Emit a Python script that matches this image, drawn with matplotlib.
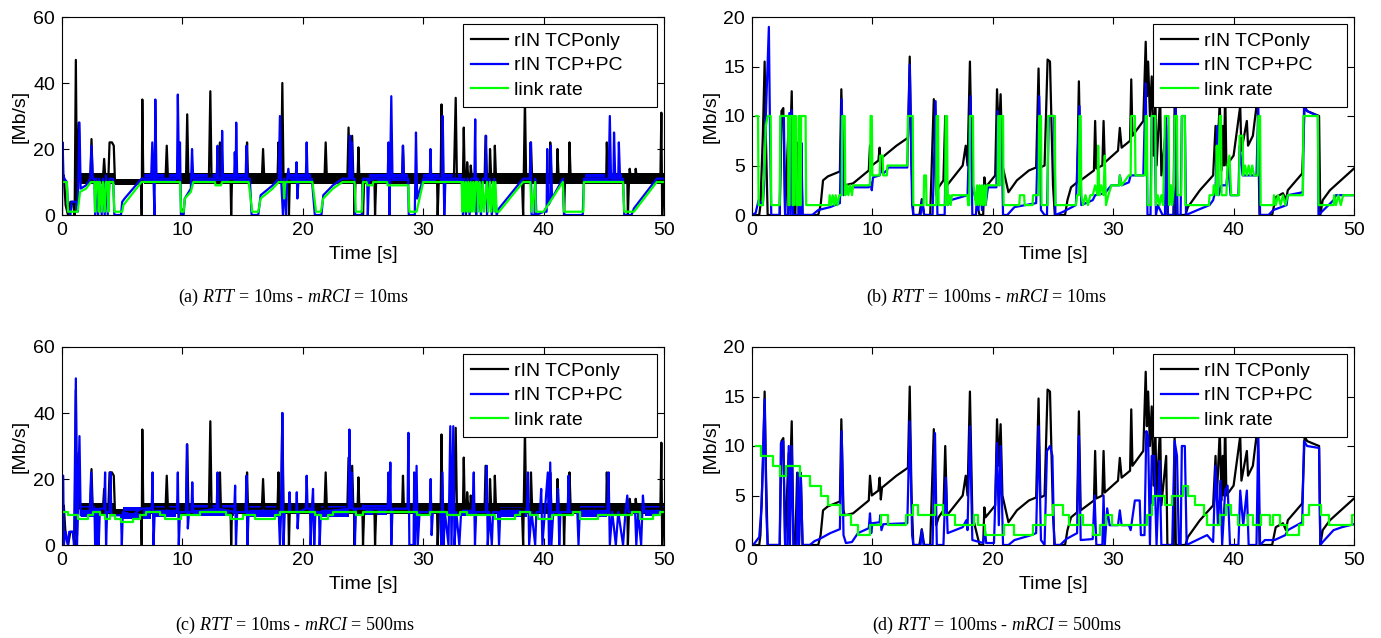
import numpy as np
import matplotlib
matplotlib.use("Agg")
import matplotlib.pyplot as plt

plt.rcParams['font.family'] = ['Liberation Sans', 'DejaVu Sans']
plt.rcParams['mathtext.fontset'] = 'custom'
plt.rcParams['mathtext.rm'] = 'Liberation Serif'
plt.rcParams['mathtext.it'] = 'Liberation Serif:italic'

# ---- data (time [s], rate [Mb/s]) ----

# rIN TCPonly, RTT = 10ms (same run in panels a and c)
tcp10 = [(0, 10), (0.15, 12), (0.3, 3), (0.5, 0), (0.7, 4), (0.9, 4), (1.05, 0), (1.15, 47),
         (1.25, 3), (1.4, 28), (1.5, 11), (2.35, 11), (2.45, 23), (2.55, 11), (3.4, 11), (3.5, 17),
         (3.6, 11), (3.85, 11), (3.95, 22), (4.15, 22), (4.3, 21), (4.4, 10), (6.55, 10), (6.62, 0),
         (6.67, 35), (6.75, 11), (8.6, 11), (8.7, 21), (8.8, 11), (10.3, 11), (10.4, 30.5), (10.5, 11),
         (12.2, 11), (12.32, 37.5), (12.42, 11), (13.05, 11), (13.12, 22), (13.2, 11), (14.0, 11),
         (14.05, 0), (14.12, 11), (15.3, 11), (15.37, 22), (15.45, 11), (16.6, 11), (16.7, 20),
         (16.8, 11), (17.9, 11), (17.98, 22), (18.05, 11), (18.2, 11), (18.3, 40), (18.4, 11),
         (18.8, 11), (18.85, 0), (18.92, 11), (21.8, 11), (21.9, 22), (22.0, 11), (23.7, 11),
         (23.8, 26.5), (23.9, 11), (24.0, 11), (24.1, 24), (24.2, 11), (24.25, 11), (24.3, 0),
         (24.38, 11), (24.55, 11), (24.62, 20.5), (24.7, 11), (24.95, 11), (25.0, 0), (25.1, 11),
         (25.95, 11), (26.0, 0), (26.1, 11), (28.25, 11), (28.32, 21), (28.4, 11), (31.15, 11),
         (31.2, 0), (31.3, 11), (31.45, 11), (31.52, 33.5), (31.6, 11), (32.55, 11), (32.62, 22),
         (32.7, 35.5), (32.8, 11), (33.3, 11), (33.37, 26.5), (33.45, 11), (33.6, 11), (33.65, 16),
         (33.75, 11), (33.9, 11), (33.95, 15), (34.05, 11), (35.1, 11), (35.18, 24), (35.3, 11),
         (35.5, 11), (35.55, 20), (35.65, 11), (35.9, 11), (35.95, 21), (36.05, 11), (38.2, 11),
         (38.3, 0), (38.45, 35), (38.55, 11), (38.9, 11), (38.95, 22), (39.05, 11), (40.5, 11),
         (40.55, 22), (40.65, 11), (41.1, 11), (41.15, 20), (41.25, 11), (41.65, 11), (41.7, 0),
         (41.78, 11), (42.1, 11), (42.15, 22), (42.25, 11), (45.2, 11), (45.25, 22), (45.35, 11),
         (46.95, 11), (47.0, 0), (47.1, 11), (47.15, 14), (47.25, 11), (47.6, 11), (47.65, 14),
         (47.75, 11), (49.7, 11), (49.78, 31), (49.85, 0), (50, 11)]
# range of the fast oscillation of the TCPonly rate: (t start, t end, low, high)
tcp10_band = [(1.5, 4.4, 9.3, 12.6), (4.4, 6.6, 9.0, 10.8), (6.8, 50, 9.3, 12.6)]

# rIN TCP+PC, RTT = 10ms, mRCI = 10ms
pc_a = [(0, 0), (0.05, 22), (0.12, 12), (0.2, 11), (0.4, 10), (0.5, 2), (0.7, 0), (0.8, 4), (1.2, 4),
        (1.3, 1), (1.45, 28), (1.55, 8), (2.0, 9), (2.35, 11), (2.45, 21), (2.55, 11), (2.7, 11),
        (2.75, 0), (2.85, 11), (3.0, 0), (3.1, 11), (3.3, 0), (3.4, 11), (3.55, 0), (3.65, 12),
        (3.8, 0), (3.95, 11), (4.25, 11), (4.35, 0), (4.9, 0), (5.0, 4), (5.2, 5), (6.6, 11),
        (7.4, 11), (7.5, 22), (7.6, 11), (7.68, 0), (7.75, 35), (7.85, 11), (9.55, 11), (9.62, 36.5),
        (9.72, 11), (9.8, 22), (9.88, 0), (10.1, 0), (10.2, 5), (10.7, 8), (10.8, 20), (10.9, 11),
        (12.85, 11), (12.92, 21), (13.0, 11), (13.25, 11), (13.3, 25.5), (13.38, 11), (14.3, 11),
        (14.35, 19), (14.42, 11), (14.47, 28), (14.55, 11), (15.25, 11), (15.32, 21), (15.4, 11),
        (15.6, 11), (15.75, 0), (16.3, 0), (16.5, 6), (17.5, 9), (18.0, 11), (18.1, 30), (18.2, 11),
        (18.35, 0), (18.45, 11), (18.6, 0), (18.7, 11), (18.8, 14), (18.9, 11), (19.4, 11),
        (19.48, 16), (19.55, 5), (19.65, 11), (20.25, 11), (20.32, 22), (20.4, 11), (20.75, 11),
        (21.0, 0), (21.55, 0), (21.7, 6), (22.5, 9), (23.3, 11), (23.85, 11), (23.92, 24), (24.0, 11),
        (24.08, 22), (24.15, 11), (24.3, 11), (24.35, 0), (24.9, 0), (25.0, 11), (25.35, 11),
        (25.4, 0), (25.5, 11), (27.05, 11), (27.12, 22), (27.2, 0), (27.35, 36), (27.45, 11),
        (28.25, 11), (28.32, 21), (28.4, 11), (28.75, 11), (28.8, 0), (29.3, 0), (29.4, 25),
        (29.5, 5), (30.0, 11), (30.55, 11), (30.6, 20), (30.67, 11), (31.55, 11), (31.62, 30),
        (31.7, 11), (31.75, 0), (31.85, 11), (33.2, 11), (33.3, 0), (33.4, 11), (33.55, 0),
        (33.7, 11), (33.85, 0), (34.0, 11), (34.25, 11), (34.32, 29), (34.4, 0), (34.55, 11),
        (34.8, 0), (34.95, 11), (35.15, 11), (35.22, 24), (35.3, 0), (35.5, 11), (35.7, 0),
        (35.9, 11), (36.1, 0), (36.3, 2), (38.3, 11), (38.85, 11), (38.92, 22), (39.0, 0),
        (39.25, 0), (39.3, 11), (39.4, 0), (40.0, 1), (40.25, 1), (40.3, 20), (40.38, 3), (40.55, 4),
        (40.6, 21), (40.7, 5), (41.6, 11), (41.7, 0), (43.25, 0), (43.35, 11), (45.4, 11), (45.5, 30),
        (45.6, 11), (45.8, 11), (45.85, 25), (45.95, 11), (46.2, 11), (46.25, 22), (46.35, 11),
        (46.6, 11), (46.7, 0), (47.3, 0), (47.5, 2), (49.4, 11), (50, 11)]
# where the TCP+PC rate oscillates as a band: (t start, t end, low, high)
pc_a_band = [(6.6, 9.5, 10.2, 12.3), (10.9, 15.5, 10.2, 12.3), (18.9, 20.7, 10.2, 12.3),
             (25.5, 28.7, 10.2, 12.3), (30.0, 33.2, 10.2, 12.3), (43.4, 46.5, 10.2, 12.3)]

link_a = [(0, 10), (0.4, 10), (0.5, 1), (1.3, 1), (1.5, 7), (2.0, 8), (2.4, 10), (2.7, 10), (2.75, 1),
          (2.85, 10), (3.0, 10), (3.05, 1), (3.15, 10), (3.3, 1), (3.4, 10), (3.55, 1), (3.65, 10),
          (3.8, 10), (3.85, 1), (3.95, 10), (4.25, 10), (4.35, 1), (5.0, 1), (5.1, 3), (6.6, 10),
          (9.8, 10), (9.9, 1), (10.1, 1), (10.2, 5), (10.7, 7), (10.9, 10), (12.7, 10), (12.75, 9),
          (13.2, 9), (13.3, 10), (15.5, 10), (15.8, 1), (16.3, 1), (16.5, 5), (17.5, 8), (18.0, 10),
          (18.4, 10), (18.45, 5), (18.55, 10), (20.8, 10), (21.1, 1), (21.5, 1), (21.7, 5), (22.5, 8),
          (23.3, 10), (24.3, 10), (24.4, 1), (24.9, 1), (25.0, 10), (25.3, 10), (25.35, 9), (25.8, 9),
          (25.85, 10), (27.0, 10), (27.05, 9), (28.75, 9), (28.85, 1), (29.45, 1), (30.0, 10),
          (33.2, 10), (33.25, 1), (33.35, 10), (33.45, 1), (33.55, 10), (33.65, 1), (33.75, 10),
          (33.85, 1), (33.95, 10), (34.05, 1), (34.15, 10), (34.25, 1), (34.35, 10), (34.5, 10),
          (34.55, 1), (34.7, 10), (34.8, 1), (34.95, 10), (35.05, 1), (35.3, 10), (35.4, 1),
          (35.55, 10), (35.65, 1), (35.8, 10), (35.9, 1), (36.0, 10), (36.1, 1), (36.3, 1), (38.3, 10),
          (38.9, 10), (39.0, 1), (39.3, 10), (39.35, 1), (40.0, 1), (41.6, 10), (41.7, 1), (43.3, 1),
          (43.35, 10), (46.6, 10), (46.7, 1), (47.3, 1), (47.5, 1), (49.4, 10), (50, 10)]

# rIN TCP+PC, RTT = 10ms, mRCI = 500ms
pc_c = [(0, 21), (0.1, 21), (0.15, 0), (0.3, 4), (0.5, 0), (0.6, 4), (0.9, 4), (1.0, 0), (1.15, 50.5),
        (1.25, 0), (1.45, 33), (1.55, 9), (2.3, 9), (2.42, 22), (2.52, 11), (2.7, 11), (2.75, 0),
        (2.82, 11), (2.9, 0), (2.98, 11), (3.05, 0), (3.15, 11), (3.5, 11), (3.58, 22), (3.66, 0),
        (3.75, 10), (3.95, 10), (4.02, 22), (4.1, 9), (4.9, 9), (4.97, 0), (5.05, 10), (5.9, 9),
        (6.5, 11), (7.45, 11), (7.52, 22), (7.6, 0), (7.7, 10), (9.55, 10), (9.62, 22), (9.7, 0),
        (9.8, 10), (10.3, 10), (10.38, 30.5), (10.45, 5), (10.55, 10), (10.75, 10), (10.82, 19),
        (10.9, 10), (12.85, 11), (12.92, 22), (13.0, 11), (14.3, 10), (14.38, 18), (14.45, 0),
        (14.55, 10), (15.25, 10), (15.32, 21), (15.4, 0), (15.5, 10), (18.0, 10), (18.1, 0),
        (18.2, 10), (18.3, 40), (18.4, 0), (18.5, 10), (18.85, 10), (18.9, 16), (18.97, 10),
        (19.45, 10), (19.5, 16), (19.57, 5), (19.65, 10), (20.25, 11), (20.32, 21), (20.4, 11),
        (20.6, 11), (20.65, 0), (20.75, 11), (20.85, 17), (20.95, 0), (21.05, 10), (21.35, 10),
        (21.4, 0), (21.5, 10), (23.8, 11), (23.87, 35), (23.95, 11), (24.05, 22), (24.12, 11),
        (24.28, 11), (24.33, 0), (24.4, 11), (24.95, 11), (25.0, 12), (25.05, 11), (27.05, 11),
        (27.12, 22), (27.2, 11), (27.27, 25), (27.35, 0), (27.45, 11), (28.7, 11), (28.77, 34),
        (28.85, 0), (29.2, 0), (29.25, 22), (29.32, 0), (29.45, 24), (29.55, 0), (29.7, 10),
        (30.55, 10), (30.62, 20), (30.7, 3), (30.8, 10), (31.4, 10), (31.5, 0), (31.6, 22), (31.7, 0),
        (31.8, 10), (32.1, 0), (32.25, 36), (32.35, 0), (32.5, 36), (32.6, 0), (32.75, 10), (33.0, 0),
        (33.15, 10), (34.1, 10), (34.2, 22), (34.3, 0), (34.4, 10), (35.2, 10), (35.28, 24),
        (35.36, 0), (35.5, 10), (35.7, 0), (35.8, 10), (36.2, 10), (36.3, 0), (36.4, 10), (38.6, 10),
        (38.7, 22), (38.8, 0), (39.0, 10), (39.3, 0), (39.4, 10), (39.7, 10), (39.8, 17), (39.9, 0),
        (40.1, 10), (40.35, 22), (40.45, 0), (40.55, 25), (40.65, 0), (40.8, 10), (41.1, 10),
        (41.2, 17), (41.3, 0), (41.4, 10), (42.0, 10), (42.07, 21), (42.15, 10), (42.8, 10),
        (42.9, 0), (43.0, 10), (45.3, 10), (45.4, 22), (45.5, 0), (45.7, 10), (46.0, 0), (46.2, 10),
        (46.6, 0), (46.8, 10), (46.95, 15), (47.05, 10), (47.6, 10), (47.7, 0), (47.85, 10),
        (48.1, 0), (48.25, 15), (48.35, 10), (50, 10)]
pc_c_band = [(1.6, 2.7, 8.6, 11.8), (5.1, 7.4, 8.0, 11.5), (7.7, 9.5, 8.6, 11.8),
             (10.9, 14.3, 8.8, 12.0), (15.5, 18.0, 8.6, 11.8), (21.5, 23.8, 8.6, 11.8),
             (25.1, 27.0, 9.0, 12.0), (33.2, 34.1, 8.8, 11.8), (36.4, 38.6, 8.6, 11.5),
             (43.0, 45.3, 8.6, 11.8), (48.4, 50, 8.8, 11.8)]

# link rate steps (step start time, level)
link_c = [(0, 10), (0.5, 9), (1.33, 8), (2.16, 9), (2.58, 10), (3.13, 9), (3.55, 8), (3.96, 9),
          (4.38, 8), (4.93, 7), (5.9, 8), (6.45, 9), (7.0, 10), (8.1, 9), (8.53, 8), (9.92, 9),
          (11.44, 10), (13.66, 9), (14.07, 8), (15.04, 9), (16.0, 8), (17.67, 9), (18.09, 10),
          (21.0, 9), (21.55, 8), (22.1, 9), (22.5, 10), (24.46, 9), (25.0, 10), (29.45, 9),
          (30.55, 10), (31.94, 9), (33.05, 10), (33.6, 9), (35.96, 8), (37.62, 9), (38.03, 10),
          (38.86, 9), (39.56, 8), (40.66, 9), (42.47, 10), (43.02, 8), (44.54, 9), (47.31, 10),
          (48.0, 8), (49.1, 9), (49.67, 10), (50, 10)]

# rIN TCPonly, RTT = 100ms (same run in panels b and d)
tcp100 = [(0, 0), (0.6, 0), (0.7, 1), (0.9, 8), (1.05, 15.5), (1.15, 8), (1.3, 0), (2.3, 0),
          (2.45, 10.5), (2.6, 10.8), (2.75, 0), (2.95, 6.5), (3.05, 9.3), (3.15, 6.5), (3.3, 12.5),
          (3.45, 0), (3.6, 0), (3.75, 7.3), (3.9, 0), (4.05, 7.3), (4.2, 0), (5.5, 0), (5.7, 1),
          (5.9, 3.5), (6.3, 3.9), (7.3, 4.4), (7.42, 12.7), (7.6, 3.5), (7.7, 3.0), (8.4, 3.2),
          (9.7, 4.5), (9.8, 7), (9.95, 5), (10.5, 5.5), (10.6, 6.8), (10.7, 4.6), (10.8, 5.8),
          (12.0, 7.0), (12.95, 7.8), (13.1, 16), (13.25, 5), (13.4, 0), (13.9, 0), (14.1, 1.6),
          (14.3, 0), (14.8, 0), (15.1, 11.7), (15.3, 2), (15.5, 2.8), (15.9, 3.5), (16.05, 10),
          (16.2, 3), (17.5, 5), (17.75, 7), (17.9, 5), (18.1, 15.5), (18.3, 3), (18.9, 0), (19.2, 0),
          (19.3, 3.8), (19.4, 2.8), (20.2, 4), (20.35, 12.7), (20.5, 8), (20.65, 12.2), (20.8, 5),
          (21.3, 2.3), (22.0, 3.5), (23.0, 4.5), (23.6, 4.8), (23.8, 14.8), (23.95, 4.8), (24.3, 5),
          (24.55, 15.7), (24.75, 15.5), (25.0, 3), (25.15, 0), (26.0, 0), (26.2, 1.5), (26.5, 2.8),
          (27.0, 3.3), (27.15, 13.5), (27.3, 3.5), (28.4, 4.5), (28.5, 9.5), (28.6, 4.7), (29.1, 5),
          (29.2, 9.5), (29.3, 5.3), (30.4, 6.5), (30.55, 8.8), (30.7, 6.8), (31.4, 7.5), (31.5, 13.7),
          (31.6, 8), (32.5, 9.5), (32.7, 17.5), (32.8, 12), (32.9, 15.5), (33.05, 10), (33.2, 14),
          (33.35, 6), (33.5, 12), (33.6, 5), (33.9, 12), (34.0, 4), (34.4, 9), (34.5, 0), (35.0, 0),
          (35.1, 11), (35.2, 0), (36.0, 0), (36.2, 0.8), (37.2, 2.5), (38.3, 4), (38.5, 9), (38.6, 4.5),
          (38.85, 11.5), (39.0, 4.5), (39.1, 9), (39.2, 5), (39.3, 12.8), (39.4, 5), (40.0, 6),
          (40.55, 11), (40.65, 6.5), (41.1, 9.5), (41.2, 7), (41.6, 8), (42.0, 12), (42.15, 0),
          (43.2, 0), (43.5, 1.8), (44.1, 2.2), (44.35, 1.5), (44.5, 2.5), (45.7, 4.2), (45.9, 11),
          (46.1, 10.5), (47.1, 10), (47.2, 0), (47.4, 1.5), (48.0, 2.5), (49.0, 3.6), (50, 4.7)]

# rIN TCP+PC, RTT = 100ms, mRCI = 10ms
pc_b = [(0, 0), (0.3, 0.2), (0.55, 1.5), (0.9, 1), (1.0, 3), (1.15, 10), (1.4, 19), (1.5, 8), (1.6, 0),
        (2.3, 0), (2.4, 10), (2.65, 10), (2.75, 0), (3.0, 0), (3.1, 10.3), (3.2, 0), (3.3, 10.6),
        (3.4, 0), (3.85, 0), (3.95, 7.5), (4.05, 0), (4.1, 7.3), (4.2, 0), (5.0, 0), (5.5, 0.5),
        (6.5, 0.8), (7.3, 1.2), (7.45, 11.7), (7.6, 2), (7.8, 2.5), (8.4, 2.8), (9.7, 2.8),
        (9.85, 3.3), (9.95, 2.5), (10.05, 3.8), (10.6, 4), (10.7, 4.5), (10.9, 4.2), (11.2, 4.5),
        (11.3, 4.8), (12.9, 4.8), (13.1, 15.2), (13.3, 1), (13.4, 0), (14.0, 0), (14.15, 1.5),
        (14.3, 0), (15.0, 0), (15.25, 11.5), (15.4, 0), (16.0, 0), (16.1, 6.8), (16.25, 1),
        (16.5, 1.5), (17.9, 2), (18.15, 12), (18.3, 0), (18.6, 0), (18.7, 2.5), (18.8, 0.5),
        (19.0, 2.8), (19.1, 0.5), (19.3, 3), (19.4, 1), (19.6, 2.8), (20.3, 2.8), (20.4, 10.5),
        (20.55, 3), (20.7, 10), (20.85, 0), (21.2, 0), (21.8, 0.8), (23.6, 1.2), (23.85, 12),
        (24.0, 0.5), (24.3, 0), (24.5, 0), (24.65, 10), (25.1, 10), (25.2, 0), (25.8, 0.3),
        (26.9, 1), (27.2, 11), (27.35, 1), (28.3, 1.5), (28.5, 2), (29.3, 2.2), (29.85, 3), (30.5, 3),
        (30.55, 4), (30.7, 3), (31.3, 3.3), (31.45, 4), (31.8, 4), (32.5, 4), (32.7, 13.3),
        (32.85, 0), (33.1, 0), (33.2, 10), (33.45, 10), (33.55, 0), (33.7, 1), (34.1, 0), (34.3, 0),
        (34.4, 10), (34.55, 0), (35.05, 0), (35.2, 11), (35.35, 0), (35.6, 0), (35.7, 10),
        (35.95, 10), (36.05, 0), (37.0, 0.5), (38.0, 1), (38.3, 1.5), (38.5, 2.5), (38.65, 9),
        (38.75, 2), (39.0, 3), (39.4, 3), (39.55, 5), (39.75, 2), (40.4, 2), (40.5, 7), (40.75, 4),
        (41.5, 4), (41.9, 4), (42.05, 11), (42.2, 0), (42.9, 0), (43.3, 0.5), (44.4, 1), (44.5, 2),
        (45.75, 2.3), (45.85, 11), (46.1, 10.5), (47.0, 10), (47.05, 0), (47.3, 0.3), (48.3, 1.5),
        (48.5, 2), (50, 2)]

link_b = [(0.35, 10), (0.5, 10), (0.55, 1), (0.9, 1), (0.95, 3), (1.05, 5), (1.15, 9), (1.3, 10),
          (1.55, 10), (1.6, 1), (2.3, 1), (2.35, 10), (3.0, 10), (3.03, 1), (3.12, 1), (3.15, 10),
          (3.35, 10), (3.38, 1), (3.48, 1), (3.5, 10), (3.65, 10), (3.68, 1), (3.85, 1), (3.88, 10),
          (3.95, 10), (3.98, 1), (4.05, 1), (4.08, 10), (4.45, 10), (4.5, 1), (6.4, 1), (6.45, 2),
          (6.6, 1), (6.7, 2), (6.85, 1), (6.95, 2), (7.1, 1), (7.25, 2), (7.45, 2), (7.5, 10),
          (7.7, 10), (7.75, 2), (7.9, 3), (8.0, 2), (8.15, 3), (8.3, 2), (8.4, 3), (9.8, 3),
          (9.85, 10), (9.95, 10), (10.0, 4), (10.6, 4), (10.65, 6), (10.85, 6), (10.9, 4), (11.2, 4),
          (11.25, 5), (12.9, 5), (12.95, 10), (13.35, 10), (13.4, 1), (14.25, 1), (14.3, 4),
          (14.45, 4), (14.5, 1), (15.3, 1), (15.33, 10), (15.45, 10), (15.5, 1), (16.05, 1),
          (16.08, 10), (16.2, 10), (16.25, 1), (16.4, 2), (16.5, 1), (16.6, 2), (17.9, 2), (17.95, 1),
          (18.05, 1), (18.1, 10), (18.35, 10), (18.4, 3), (18.6, 1), (18.7, 3), (18.8, 1), (18.9, 3),
          (19.0, 1), (19.1, 3), (19.2, 1), (19.3, 3), (19.4, 1), (19.5, 3), (20.4, 3), (20.45, 10),
          (20.55, 10), (20.6, 3), (20.65, 10), (20.85, 10), (20.9, 1), (22.2, 1), (22.25, 2),
          (22.6, 2), (22.65, 1), (23.3, 1), (23.35, 2), (23.8, 2), (23.85, 10), (24.0, 10), (24.05, 1),
          (24.55, 1), (24.6, 10), (25.15, 10), (25.2, 1), (26.9, 1), (27.0, 2), (27.15, 2), (27.2, 10),
          (27.3, 10), (27.35, 2), (27.5, 1), (27.7, 2), (27.9, 1), (28.1, 2), (28.3, 2), (28.5, 3),
          (28.7, 2), (28.75, 7), (28.85, 2), (29.0, 3), (29.2, 2), (29.3, 6), (29.4, 1), (29.6, 2),
          (29.85, 3), (30.5, 3), (30.55, 4), (30.7, 3), (31.3, 4), (31.45, 4), (31.5, 10), (31.8, 10),
          (31.85, 4), (32.65, 4), (32.7, 10), (32.8, 10), (32.85, 1), (33.15, 1), (33.2, 10),
          (33.5, 10), (33.55, 1), (33.7, 2), (33.85, 1), (34.0, 2), (34.15, 1), (34.3, 10), (34.6, 10),
          (34.65, 1), (34.8, 3), (34.9, 1), (35.05, 3), (35.1, 10), (35.3, 10), (35.35, 2),
          (35.65, 2), (35.7, 10), (35.95, 10), (36.0, 1), (37.95, 1), (38.0, 2), (38.3, 2), (38.35, 3),
          (38.55, 2), (38.6, 7), (38.7, 2), (38.85, 10), (38.95, 10), (39.0, 2), (39.4, 2), (39.5, 5),
          (39.65, 6), (39.8, 2), (40.45, 2), (40.5, 8), (40.75, 8), (40.8, 4), (40.95, 5), (41.1, 4),
          (41.25, 5), (41.4, 4), (41.55, 5), (41.7, 4), (42.0, 4), (42.05, 10), (42.2, 10), (42.25, 1),
          (43.3, 1), (43.35, 2), (43.5, 1), (43.7, 2), (43.9, 1), (44.1, 2), (44.3, 1), (44.5, 2),
          (45.75, 2), (45.8, 10), (47.0, 10), (47.05, 1), (48.3, 1), (48.35, 2), (48.5, 1), (48.7, 2),
          (48.9, 1), (49.1, 2), (50, 2)]

# rIN TCP+PC, RTT = 100ms, mRCI = 500ms
pc_d = [(0, 0), (0.1, 0), (0.6, 0.8), (0.8, 4), (1.05, 14.7), (1.2, 3), (1.3, 0), (2.3, 0), (2.4, 10.3),
        (2.6, 10.5), (2.75, 0), (2.95, 0), (3.05, 10), (3.15, 0), (3.3, 10), (3.45, 0), (3.7, 0),
        (3.8, 7.3), (3.9, 0), (4.05, 7.2), (4.2, 0), (4.8, 0), (5.2, 0.4), (5.6, 0.6), (6.5, 1.2),
        (7.3, 1.6), (7.45, 11.5), (7.6, 1.0), (7.8, 0.2), (8.3, 0.3), (8.8, 1.2), (9.7, 1.7),
        (9.8, 3.2), (9.9, 1.2), (10.0, 2.2), (10.6, 2.3), (10.65, 3), (10.75, 1.5), (10.9, 2.1),
        (12.9, 2.2), (13.1, 12.5), (13.3, 1), (13.4, 0), (14.0, 0), (14.1, 1.5), (14.25, 0),
        (15.0, 0), (15.2, 11.3), (15.35, 0), (15.9, 0), (16.1, 6.8), (16.25, 1.2), (17.5, 1.8),
        (17.8, 2.5), (17.9, 1.5), (18.1, 12), (18.3, 0.5), (19.2, 0.2), (19.35, 1.5), (19.45, 0.2),
        (20.1, 0.2), (20.35, 10.3), (20.5, 2), (20.65, 10), (20.85, 0), (21.3, 0), (21.8, 0.5),
        (23.2, 1), (23.6, 1.2), (23.8, 12), (24.0, 0.5), (24.3, 0), (24.5, 9.5), (24.75, 10),
        (24.95, 9), (25.1, 0), (25.6, 0), (26.1, 0.6), (27.0, 1.2), (27.15, 11), (27.3, 0.5),
        (28.3, 0.6), (28.45, 5), (28.6, 0), (29.1, 0), (29.2, 5), (29.3, 0), (29.5, 3.7), (29.7, 2),
        (30.4, 2), (30.55, 3.5), (30.7, 2), (31.3, 2), (31.45, 1.5), (31.8, 4.5), (32.2, 4.5),
        (32.3, 1), (32.6, 1), (32.75, 11.5), (32.9, 11), (33.05, 0), (33.2, 9), (33.4, 9), (33.6, 0),
        (33.85, 8.5), (34.0, 0), (34.9, 0), (35.1, 10.5), (35.3, 9), (35.45, 0), (35.6, 0), (35.7, 10),
        (35.95, 10), (36.1, 0), (36.6, 0.3), (37.8, 1), (38.3, 0.3), (38.5, 8), (38.7, 2), (38.9, 6.5),
        (39.05, 0), (39.3, 5.5), (39.5, 6), (39.7, 0), (40.4, 0), (40.55, 5.5), (40.8, 2), (41.1, 5.5),
        (41.25, 0), (41.9, 0), (42.05, 11.5), (42.2, 0), (42.6, 0.5), (43.4, 0.5), (44.3, 1.0),
        (44.5, 1.5), (45.7, 2.3), (45.85, 10.5), (46.1, 10), (47.1, 9.8), (47.2, 0), (47.4, 0.3),
        (48.3, 1.5), (49.0, 1.8), (50, 2.1)]

link_d = [(0.36, 10), (0.78, 9), (1.75, 8), (2.3, 7), (2.85, 8), (3.96, 7), (4.8, 6), (5.76, 5), (6.3, 4),
          (7.3, 3), (8.25, 2), (8.8, 1), (9.8, 2), (10.75, 3), (11.3, 2), (12.8, 3), (13.4, 4),
          (13.8, 3), (15.2, 4), (15.9, 3), (16.85, 2), (18.4, 3), (18.8, 2), (19.35, 1), (20.9, 2),
          (21.8, 1), (23.35, 2), (24.3, 3), (25.0, 4), (25.8, 3), (26.3, 2), (27.2, 3), (27.5, 2),
          (28.3, 1), (28.9, 2), (29.4, 3), (29.9, 2), (32.8, 3), (33.2, 4), (33.3, 5), (34.3, 4),
          (34.85, 5), (35.8, 6), (36.2, 5), (36.8, 4), (37.5, 3), (37.75, 2), (38.9, 3), (39.4, 4),
          (39.8, 3), (40.4, 2), (41.2, 3), (41.6, 2), (42.3, 3), (43.0, 2), (43.3, 3), (43.85, 2),
          (44.4, 1), (45.4, 2), (45.8, 3), (46.3, 4), (47.3, 3), (47.9, 2), (49.8, 3), (50, 3)]

captions = [r"(a) $RTT\,=\,10\mathrm{ms}$ - $mRCI\,=\,10\mathrm{ms}$",
            r"(b) $RTT\,=\,100\mathrm{ms}$ - $mRCI\,=\,10\mathrm{ms}$",
            r"(c) $RTT\,=\,10\mathrm{ms}$ - $mRCI\,=\,500\mathrm{ms}$",
            r"(d) $RTT\,=\,100\mathrm{ms}$ - $mRCI\,=\,500\mathrm{ms}$"]
labels = ["rIN TCPonly", "rIN TCP+PC", "link rate"]


def split(pairs):
    arr = np.array(pairs, dtype=float)
    return arr[:, 0], arr[:, 1]


def draw_band(ax, band, color):
    for t0, t1, lo, hi in band:
        ax.fill_between([t0, t1], [lo, lo], [hi, hi], color=color, lw=0)


W, H = 1381, 638
fig = plt.figure(figsize=(W / 100, H / 100), dpi=100)

panels = [
    # tcp, tcp band, pc, pc band, link, link is steps, ymax, yticks, axes (left, top) px, caption px
    (tcp10, tcp10_band, pc_a, pc_a_band, link_a, False, 60, [0, 20, 40, 60], (62, 17), (178, 297)),
    (tcp100, None, pc_b, None, link_b, False, 20, [0, 5, 10, 15, 20], (752, 17), (866, 297)),
    (tcp10, tcp10_band, pc_c, pc_c_band, link_c, True, 60, [0, 20, 40, 60], (62, 347), (175, 625)),
    (tcp100, None, pc_d, None, link_d, True, 20, [0, 5, 10, 15, 20], (752, 347), (872, 625)),
]

for i, (tcp, band, pc, pband, link, steps, ymax, yt, (px, py), (cx, cy)) in enumerate(panels):
    ax = fig.add_axes([px / W, 1 - (py + 198) / H, 602 / W, 198 / H])
    t, v = split(tcp)
    ax.plot(t, v, color='k', lw=1.6, label=labels[0])
    if band is not None:
        draw_band(ax, band, 'k')
    t, v = split(pc)
    ax.plot(t, v, color='#0000ff', lw=1.6, label=labels[1])
    if pband is not None:
        draw_band(ax, pband, '#0000ff')
    t, v = split(link)
    ax.plot(t, v, color='#00ff00', lw=1.6, drawstyle='steps-post' if steps else 'default',
            label=labels[2])

    ax.set_xlim(0, 50)
    ax.set_ylim(0, ymax)
    ax.set_xticks([0, 10, 20, 30, 40, 50])
    ax.set_yticks(yt)
    ax.tick_params(direction='in', top=True, right=True, labelsize=14, length=5, width=0.8, pad=5)
    for s in ax.spines.values():
        s.set_linewidth(0.8)
    ax.set_xlabel("Time [s]", fontsize=14, labelpad=5)
    ax.set_ylabel("[Mb/s]", fontsize=14, labelpad=3)
    leg = ax.legend(loc='upper left', bbox_to_anchor=(0.666, 0, 0.322, 0.965), mode='expand',
                    borderaxespad=0, fontsize=14, frameon=True, fancybox=False,
                    edgecolor='k', framealpha=1, handlelength=1.9, handletextpad=0.3,
                    labelspacing=0.36, borderpad=0.42)
    leg.get_frame().set_linewidth(0.8)
    fig.text(cx / W, 1 - cy / H, captions[i], fontsize=13, ha='left', va='center',
             family='Liberation Serif')

fig.savefig("out.png", dpi=100)
